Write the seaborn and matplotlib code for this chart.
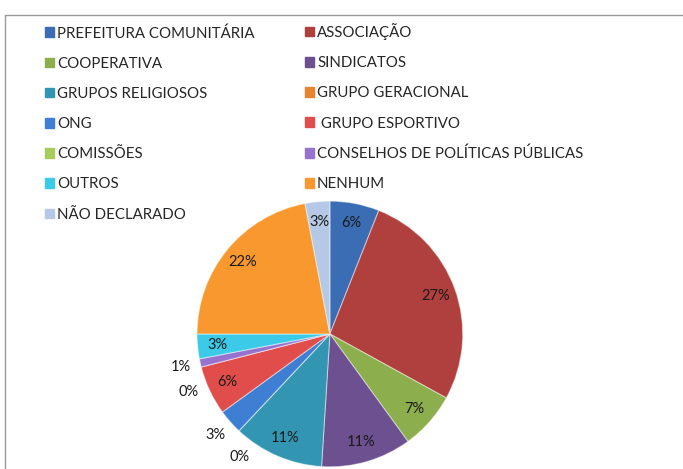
import numpy as np
import seaborn as sns
import matplotlib.pyplot as plt
from matplotlib.patches import Patch
from matplotlib.lines import Line2D

# data
categorias = ['PREFEITURA COMUNITÁRIA', 'ASSOCIAÇÃO', 'COOPERATIVA', 'SINDICATOS',
              'GRUPOS RELIGIOSOS', 'GRUPO GERACIONAL', 'ONG', ' GRUPO ESPORTIVO',
              'COMISSÕES', 'CONSELHOS DE POLÍTICAS PÚBLICAS', 'OUTROS', 'NENHUM',
              'NÃO DECLARADO']
percentuais = [6, 27, 7, 11, 11, 0, 3, 6, 0, 1, 3, 22, 3]
cores = ['#3A6DB3', '#B0403D', '#8CAE4C', '#6C5090', '#3296B3', '#E8842E',
         '#3F7FD3', '#E04D4B', '#A6CC5C', '#9673CF', '#3BCBE8', '#F8982F',
         '#B5C8E6']

# labels drawn outside the pie, with a small angular nudge (degrees)
fora = {'GRUPO GERACIONAL': 7, 'ONG': 0, 'COMISSÕES': 8,
        'CONSELHOS DE POLÍTICAS PÚBLICAS': 0}

sns.set_style('white')
plt.rcParams['font.family'] = ['Lato', 'DejaVu Sans']

fig = plt.figure(figsize=(6.83, 4.69), dpi=100)

# outer chart frame (left and top edges visible)
fig.add_artist(Line2D([0.0075, 0.0075], [0, 0.968], color='#9a9a9a', lw=1))
fig.add_artist(Line2D([0.0075, 1], [0.968, 0.968], color='#9a9a9a', lw=1))

ax = fig.add_axes([0.2885, 0.0044, 0.389, 0.567])
wedges, _ = ax.pie(percentuais, colors=cores, startangle=90, counterclock=False,
                   radius=1, wedgeprops=dict(edgecolor=(1, 1, 1, 0.45), linewidth=0.8))
ax.set_xlim(-1, 1)
ax.set_ylim(-1, 1)
ax.set_aspect('equal')
ax.axis('off')

for w, cat, pct in zip(wedges, categorias, percentuais):
    ang = (w.theta1 + w.theta2) / 2
    if cat in fora:
        ang += fora[cat]
        r = 1.15
    else:
        r = 0.85
    x = r * np.cos(np.radians(ang))
    y = r * np.sin(np.radians(ang))
    ax.text(x, y, f'{pct}%', ha='center', va='center', fontsize=10.5,
            color='#1a1a1a', clip_on=False)

# legend laid out row by row in two columns
handles = [Patch(facecolor=c, edgecolor=c) for c in cores]
col1 = list(range(0, len(categorias), 2))
col2 = list(range(1, len(categorias), 2))
for idx, xpos, ytop in [(col1, 45 / 683, 26), (col2, 305 / 683, 23)]:
    fig.legend([handles[i] for i in idx], [categorias[i] for i in idx],
               loc='upper left', bbox_to_anchor=(xpos, 1 - ytop / 469),
               frameon=False, fontsize=10.8, handlelength=0.6, handleheight=0.6,
               handletextpad=0.2, labelspacing=1.08, borderpad=0, borderaxespad=0)

fig.savefig('out.png', dpi=100, facecolor='white')
